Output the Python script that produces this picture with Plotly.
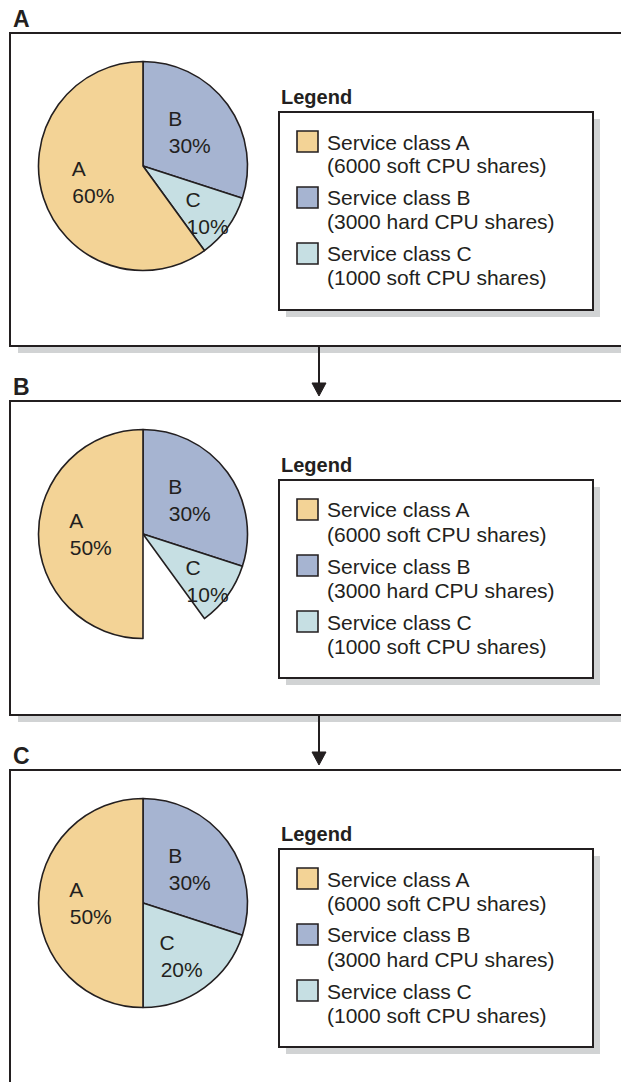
import plotly.graph_objects as go

# ---------------- data ----------------
panel_titles = ["A", "B", "C"]
slice_labels = ["B", "C", "", "A"]          # clockwise from 12 o'clock; "" = unallocated share
slice_colors = ["#a6b4d1", "#c6dfe3", "rgba(0,0,0,0)", "#f3d396"]
panel_A_values = [30, 10, 0, 60]
panel_B_values = [30, 10, 10, 50]
panel_C_values = [30, 20, 0, 50]
panel_values = [panel_A_values, panel_B_values, panel_C_values]

legend_title = "Legend"
legend_names = ["Service class A", "Service class B", "Service class C"]
legend_details = ["(6000 soft CPU shares)", "(3000 hard CPU shares)", "(1000 soft CPU shares)"]
legend_colors = ["#f3d396", "#a6b4d1", "#c6dfe3"]

# ---------------- layout helpers ----------------
W, H = 621, 1082
FONT = "Liberation Sans, Arial, Helvetica, sans-serif"
INK = "#231f20"
SHADOW = "#d1d3d4"

def px(x):
    return x / W

def py(y):
    return 1 - y / H

panel_tops = [33, 401, 770]
panel_bottoms = [346, 715, 1100]

fig = go.Figure()
shapes = []
annotations = []

for i, top in enumerate(panel_tops):
    bottom = panel_bottoms[i]
    # panel shadow + panel box
    shapes.append(dict(type="rect", xref="paper", yref="paper", layer="below",
                       x0=px(18), x1=px(640), y0=py(bottom + 7), y1=py(top + 6),
                       fillcolor=SHADOW, line=dict(width=0)))
    shapes.append(dict(type="rect", xref="paper", yref="paper", layer="below",
                       x0=px(10), x1=px(640), y0=py(bottom), y1=py(top),
                       fillcolor="white", line=dict(color=INK, width=2)))
    # panel title
    annotations.append(dict(text="<b>%s</b>" % panel_titles[i], xref="paper", yref="paper",
                            x=px(11), y=py(top - 14), xanchor="left", yanchor="middle",
                            showarrow=False, font=dict(family=FONT, size=23, color=INK)))

    # pie
    cx, cy, r = 143, top + 133, 104.5
    vals = panel_values[i]
    texts = []
    for lab, v in zip(slice_labels, vals):
        if lab == "" or v == 0:
            texts.append("")
        else:
            texts.append(lab + "\u00a0" * 5 + "<br>%d%%" % v)
    fig.add_trace(go.Pie(
        labels=slice_labels, values=vals, sort=False, direction="clockwise", rotation=0,
        text=texts, textinfo="text", textposition="inside",
        insidetextorientation="horizontal",
        insidetextfont=dict(family=FONT, size=21, color=INK),
        marker=dict(colors=slice_colors,
                    line=dict(color=INK, width=[1.6 if lab else 0 for lab in slice_labels])),
        domain=dict(x=[px(cx - r), px(cx + r)], y=[py(cy + r), py(cy - r)]),
        hoverinfo="skip", showlegend=False,
    ))

    # legend block
    lt, lb, ll, lr = top + 79, top + 277, 279, 593
    annotations.append(dict(text="<b>%s</b>" % legend_title, xref="paper", yref="paper",
                            x=px(279), y=py(top + 64), xanchor="left", yanchor="middle",
                            showarrow=False, font=dict(family=FONT, size=20, color=INK)))
    shapes.append(dict(type="rect", xref="paper", yref="paper", layer="below",
                       x0=px(ll + 7), x1=px(lr + 7), y0=py(lb + 7), y1=py(lt + 7),
                       fillcolor=SHADOW, line=dict(width=0)))
    shapes.append(dict(type="rect", xref="paper", yref="paper", layer="below",
                       x0=px(ll), x1=px(lr), y0=py(lb), y1=py(lt),
                       fillcolor="white", line=dict(color=INK, width=2)))
    for k in range(len(legend_names)):
        y1 = lt + 29 + 56 * k
        shapes.append(dict(type="rect", xref="paper", yref="paper",
                           x0=px(297), x1=px(318), y0=py(y1 + 11), y1=py(y1 - 10),
                           fillcolor=legend_colors[k], line=dict(color=INK, width=1.6)))
        annotations.append(dict(text=legend_names[k], xref="paper", yref="paper",
                                x=px(325), y=py(y1 + 1), xanchor="left", yanchor="middle",
                                showarrow=False, font=dict(family=FONT, size=21, color=INK)))
        annotations.append(dict(text=legend_details[k], xref="paper", yref="paper",
                                x=px(325), y=py(y1 + 25), xanchor="left", yanchor="middle",
                                showarrow=False, font=dict(family=FONT, size=21, color=INK)))

# arrows between panels
for i in range(len(panel_tops) - 1):
    y0 = panel_bottoms[i] + 1
    tip = panel_tops[i + 1] - 5
    shapes.append(dict(type="line", xref="paper", yref="paper",
                       x0=px(319), x1=px(319), y0=py(y0), y1=py(tip - 10),
                       line=dict(color=INK, width=2)))
    shapes.append(dict(type="path", xref="paper", yref="paper",
                       path="M %f %f L %f %f L %f %f Z" % (px(312), py(tip - 13), px(326), py(tip - 13), px(319), py(tip)),
                       fillcolor=INK, line=dict(color=INK, width=1)))

fig.update_layout(
    width=W, height=H, margin=dict(l=0, r=0, t=0, b=0),
    paper_bgcolor="white", plot_bgcolor="white",
    shapes=shapes, annotations=annotations,
    uniformtext=dict(minsize=21, mode="show"),
    showlegend=False,
)
fig.write_html("out.html", config={"displayModeBar": False},
               post_script="document.body.style.margin='0';document.body.style.overflow='hidden';")
